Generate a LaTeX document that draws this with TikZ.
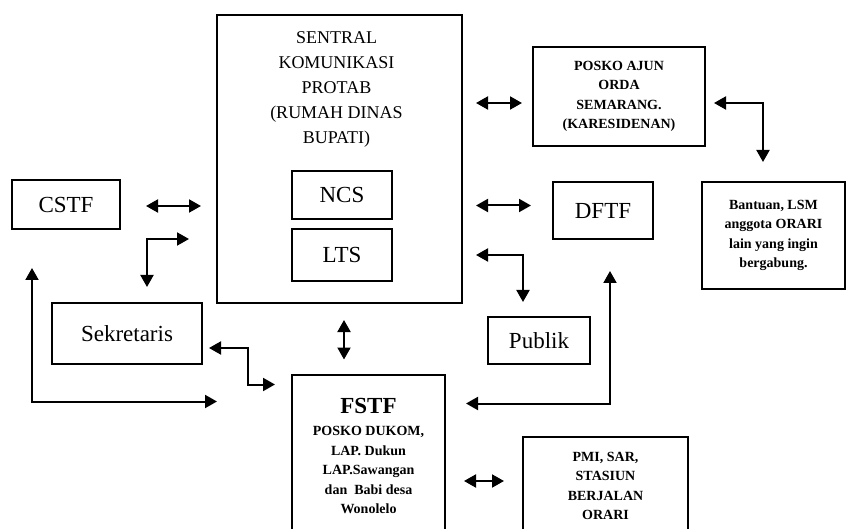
\documentclass[tikz,border=0pt]{standalone}
\usepackage{fontspec}
\setmainfont{Liberation Serif}
\usetikzlibrary{arrows.meta,calc}
\newcommand\bigtxt{\fontsize{23}{27}\selectfont}
\newcommand\midtxt{\fontsize{18}{25}\selectfont}
\newcommand\smalltxt{\fontsize{14}{19.5}\selectfont\bfseries}
\begin{document}
\begin{tikzpicture}[x=1pt,y=-1pt,
	box/.style={draw,line width=2pt,inner sep=0pt,align=center},
	link/.style={line width=2pt,{Triangle[length=12pt,width=13pt]}-{Triangle[length=12pt,width=13pt]}}]
	\useasboundingbox (0,0) rectangle (846,529);
	\clip (0,0) rectangle (846,529);
	% boxes
	\node[box,minimum width=245pt,minimum height=288pt] (sentral) at (339.5,159) {};
	\node[align=center,font=\midtxt] (sentraltxt) at ($(sentral.north)+(-3,75)$) {SENTRAL\\KOMUNIKASI\\PROTAB\\(RUMAH DINAS\\BUPATI)};
	\node[box,minimum width=100pt,minimum height=48pt,font=\bigtxt] (ncs) at (342,195) {NCS};
	\node[box,minimum width=100pt,minimum height=52pt,font=\bigtxt] (lts) at (342,255) {LTS};
	\node[box,minimum width=108pt,minimum height=49pt,font=\bigtxt] (cstf) at (66,204.5) {CSTF};
	\node[box,minimum width=150pt,minimum height=61pt,font=\bigtxt] (sekretaris) at (127,333.5) {Sekretaris};
	\node[box,minimum width=153pt,minimum height=163pt,font=\smalltxt] (fstf) at (368.5,456) {{\bigtxt FSTF}\\[3pt]POSKO DUKOM,\\LAP. Dukun\\LAP.Sawangan\\dan \ Babi desa\\Wonolelo};
	\node[box,minimum width=172pt,minimum height=99pt,font=\smalltxt] (posko) at (619,96.5) {POSKO AJUN\\ORDA\\SEMARANG.\\(KARESIDENAN)};
	\node[box,minimum width=100pt,minimum height=57pt,font=\bigtxt] (dftf) at (603,210.5) {DFTF};
	\node[box,minimum width=102pt,minimum height=47pt,font=\bigtxt] (publik) at (539,340.5) {Publik};
	\node[box,minimum width=143pt,minimum height=107pt,font=\smalltxt] (bantuan) at (773.5,235.5) {Bantuan, LSM\\anggota ORARI\\lain yang ingin\\bergabung.};
	\node[box,minimum width=165pt,minimum height=98pt,font=\smalltxt] (pmi) at (605.5,486) {PMI, SAR,\\STASIUN\\BERJALAN\\ORARI};
	% arrows
	\draw[link] ($(cstf.east)+(25,1.5)$) -- ($(sentral.west |- cstf.east)+(-15,1.5)$);
	\draw[link] ($(sekretaris.north)+(20,-15)$) |- ($(sentral.west)+(-27,80)$);
	\draw[link] ($(cstf.south west)+(21,38)$) |- ($(fstf.north west)+(-74,28)$);
	\draw[link] ($(sekretaris.east)+(6,14.5)$) -- ++(39,0) |- ($(fstf.north west)+(-16,11)$);
	\draw[link] ($(sentral.south)+(4.5,16)$) coordinate (s) -- (s |- {$(fstf.north)+(0,-14)$});
	\draw[link] ($(sentral.east |- posko.west)+(13,6.5)$) -- ($(posko.west)+(-10,6.5)$);
	\draw[link] ($(sentral.east |- dftf.west)+(13,-5)$) -- ($(dftf.west)+(-21,-5)$);
	\draw[link] ($(sentral.east)+(13,96)$) -| ($(publik.north)+(-16,-14)$);
	\draw[link] ($(fstf.north east)+(20,30)$) -| ($(dftf.south)+(7,31)$);
	\draw[link] ($(posko.east)+(8,6.5)$) -| ($(bantuan.north)+(-10.5,-19)$);
	\draw[link] ($(fstf.east |- pmi.west)+(18,-5)$) -- ($(pmi.west)+(-18,-5)$);
\end{tikzpicture}
\end{document}
